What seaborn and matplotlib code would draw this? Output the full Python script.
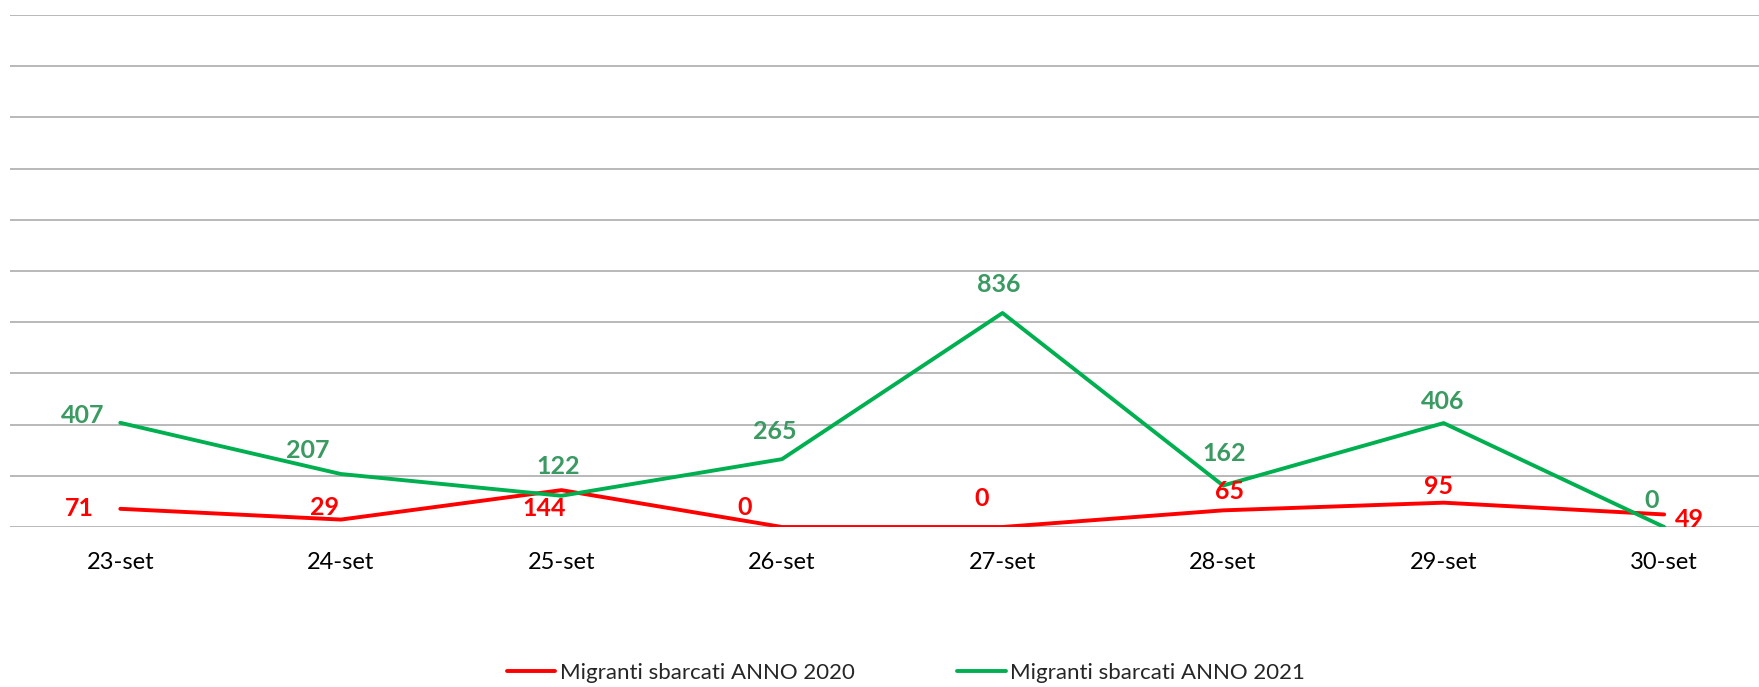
import matplotlib
matplotlib.use("Agg")
import matplotlib.pyplot as plt
import seaborn as sns
import pandas as pd
from matplotlib.lines import Line2D

# data
giorni = ["23-set", "24-set", "25-set", "26-set", "27-set", "28-set", "29-set", "30-set"]
sbarcati_2020 = [71, 29, 144, 0, 0, 65, 95, 49]
sbarcati_2021 = [407, 207, 122, 265, 836, 162, 406, 0]
serie = ["Migranti sbarcati ANNO 2020", "Migranti sbarcati ANNO 2021"]

df = pd.DataFrame({
    "giorno": giorni * 2,
    "migranti": sbarcati_2020 + sbarcati_2021,
    "anno": [serie[0]] * len(giorni) + [serie[1]] * len(giorni),
})

sns.set_theme(style="white")
plt.rcParams["font.family"] = ["Lato", "DejaVu Sans"]

rosso = "#FF0000"
verde = "#00B050"
verde_label = "#3A9A62"

fig = plt.figure(figsize=(17.59, 6.87), dpi=100)
ax = fig.add_axes([0.0057, 0.2329, 0.9943, 0.7452])

sns.lineplot(data=df, x="giorno", y="migranti", hue="anno", sort=False,
             palette=[rosso, verde], linewidth=2.8, ax=ax, legend=False)

ax.set_ylim(0, 2000)
ax.set_xlim(-0.5, 7.43)
ax.set_yticks(range(0, 2001, 200))
ax.yaxis.grid(True, color="#A6A6A6", linewidth=1.1)
ax.xaxis.grid(False)
ax.set_axisbelow(True)
ax.tick_params(axis="y", left=False, labelleft=False)
ax.tick_params(axis="x", bottom=False, labelsize=17, colors="#000000", pad=12)
ax.set_xlabel("")
ax.set_ylabel("")
for s in ax.spines.values():
    s.set_visible(False)

# data labels (offsets in pixels)
off_2020 = [(-41, 0), (-16, 12), (-17, -18), (-37, 19), (-21, 28), (7, 19), (-5, 16), (25, -5)]
off_2021 = [(-38, 7), (-33, 24), (-3, 29), (-7, 28), (-4, 29), (1, 32), (-1, 22), (-13, 26)]
for i, v in enumerate(sbarcati_2020):
    ax.annotate(str(v), (i, v), xytext=off_2020[i], textcoords="offset pixels",
                ha="center", va="center", color=rosso, fontsize=18, fontweight="bold")
for i, v in enumerate(sbarcati_2021):
    ax.annotate(str(v), (i, v), xytext=off_2021[i], textcoords="offset pixels",
                ha="center", va="center", color=verde_label, fontsize=18, fontweight="bold")

handles = [Line2D([], [], color=rosso, linewidth=2.8),
           Line2D([], [], color=verde, linewidth=2.8)]
fig.legend(handles, serie, loc="center", bbox_to_anchor=(0.515, 0.02), ncol=2,
           frameon=False, fontsize=16, handlelength=2.2, handletextpad=0.2,
           columnspacing=4.6)

fig.savefig("out.png", dpi=100, facecolor="white")
